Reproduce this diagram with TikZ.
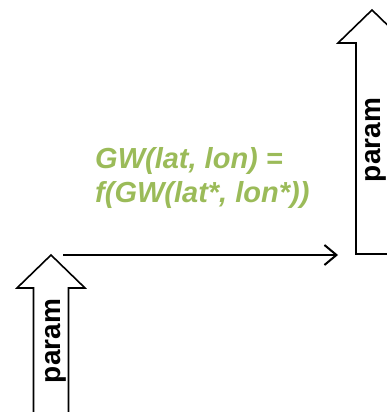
\documentclass[tikz,border=0pt]{standalone}
\usepackage{fontspec}
\setmainfont{Liberation Sans}
\usetikzlibrary{arrows.meta}
\definecolor{olivegreen}{HTML}{9BBB59}
\tikzset{
  blockarrow/.style={draw=black, line width=1.6pt, fill=white, line join=miter},
  paramlabel/.style={font=\fontsize{28}{30}\selectfont\bfseries, rotate=90, inner sep=0pt},
  formula/.style={font=\fontsize{29}{34}\selectfont\bfseries\itshape, text=olivegreen, align=left, inner sep=0pt, anchor=base west},
  connector/.style={line width=2pt, -{Straight Barb[length=12pt,width=20pt,line width=2pt]}}
}
\begin{document}
\begin{tikzpicture}[x=1pt,y=-1pt]
\useasboundingbox (0,0) rectangle (387,412);
\clip (0,0) rectangle (387,412);
% left block arrow
\draw[blockarrow] (33.5,430) -- (33.5,288) -- (17,288) -- (51,255) -- (85,288) -- (68.5,288) -- (68.5,430);
\node[paramlabel] (p1) at (56,341) {param};
% right block arrow
\draw[blockarrow] (356,254) -- (356,43) -- (338,43) -- (372,10) -- (406,43) -- (388,43) -- (388,254) -- cycle;
\node[paramlabel] (p2) at (376,140) {param};
% connector
\coordinate (cstart) at (63,255);
\coordinate (cend) at (338,255);
\draw[connector] (cstart) -- (cend);
\node[formula] (f) at (95,202) {GW(lat, lon) =\\f(GW(lat*, lon*))};
\end{tikzpicture}
\end{document}
